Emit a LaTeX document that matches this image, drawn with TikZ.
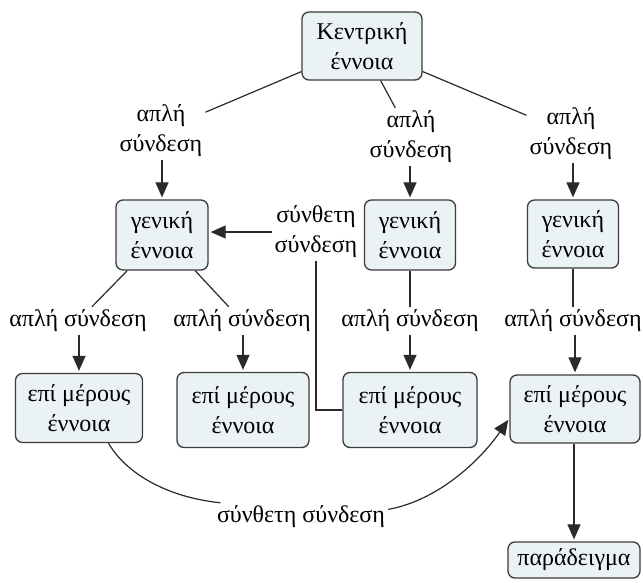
\documentclass[tikz,border=0pt]{standalone}
\usepackage{fontspec}
\setmainfont{Liberation Serif}
\usetikzlibrary{arrows.meta}
\definecolor{boxfill}{HTML}{EAF2F5}
\definecolor{boxline}{HTML}{3C3C3C}
\definecolor{linkc}{HTML}{2A2A2A}
\newcommand{\mapfont}{\fontsize{24}{30}\selectfont}
\begin{document}
\begin{tikzpicture}[x=1pt,y=-1pt,
  concept/.style={draw=boxline, fill=boxfill, rounded corners=7pt, line width=1.3pt,
    align=center, inner sep=0pt, font=\mapfont},
  linklabel/.style={align=center, inner sep=3pt, font=\mapfont},
  link/.style={draw=linkc, line width=1.2pt},
  arr/.style={link, -{Triangle[length=15pt,width=13pt]}, shorten >=2pt}]
\useasboundingbox (0,0) rectangle (643,582);

% concepts
\node[concept, minimum width=120pt, minimum height=68pt] (cen) at (362,46) {Κεντρική\\έννοια};
\node[concept, minimum width=92pt, minimum height=70pt] (gen1) at (162,235) {γενική\\έννοια};
\node[concept, minimum width=91pt, minimum height=70pt] (gen2) at (410,235) {γενική\\έννοια};
\node[concept, minimum width=91pt, minimum height=68pt] (gen3) at (573,234) {γενική\\έννοια};
\node[concept, minimum width=127pt, minimum height=69pt] (part1) at (79,408) {επί μέρους\\έννοια};
\node[concept, minimum width=132pt, minimum height=75pt] (part2) at (243,410) {επί μέρους\\έννοια};
\node[concept, minimum width=134pt, minimum height=75pt] (part3) at (410,410) {επί μέρους\\έννοια};
\node[concept, minimum width=130pt, minimum height=68pt] (part4) at (575,409) {επί μέρους\\έννοια};
\node[concept, minimum width=132pt, minimum height=36pt] (ex) at (574,560) {παράδειγμα};

% link labels
\node[linklabel] (l1) at (161,131) {απλή\\σύνδεση};
\node[linklabel] (l2) at (411,137) {απλή\\σύνδεση};
\node[linklabel] (l3) at (571,134) {απλή\\σύνδεση};
\node[linklabel] (lc1) at (316,232) {σύνθετη\\σύνδεση};
\node[linklabel] (l4) at (78,321) {απλή σύνδεση};
\node[linklabel] (l5) at (242,321) {απλή σύνδεση};
\node[linklabel] (l6) at (410,321) {απλή σύνδεση};
\node[linklabel] (l7) at (573,321) {απλή σύνδεση};
\node[linklabel] (lc2) at (301,517) {σύνθετη σύνδεση};

% simple links
\draw[link] (cen) -- (l1);
\draw[link] (cen) -- (l2);
\draw[link] (cen) -- (l3);
\draw[arr] (l1.south -| gen1) -- (gen1);
\draw[arr] (l2.south -| gen2) -- (gen2);
\draw[arr] (l3.south -| gen3) -- (gen3);
\draw[link] (gen1) -- (l4);
\draw[link] (gen1) -- (l5);
\draw[link] (gen2) -- (l6);
\draw[link] (gen3) -- (l7);
\draw[arr] (l4.south -| part1) -- (part1);
\draw[arr] (l5.south -| part2) -- (part2);
\draw[arr] (l6.south -| part3) -- (part3);
\draw[arr] (l7.south -| part4) -- (part4);
\draw[arr] (part4.south -| ex) -- (ex);

% cross links
\draw[link] (part3) -| (lc1);
\draw[arr] (lc1.west) -- (lc1.west -| gen1.east);
\draw[link] (part1.-50) .. controls (125,472) and (165,497) .. (lc2.170);
\draw[arr] (lc2.5) .. controls (440,500) and (482,458) .. (part4.188);
\end{tikzpicture}
\end{document}
